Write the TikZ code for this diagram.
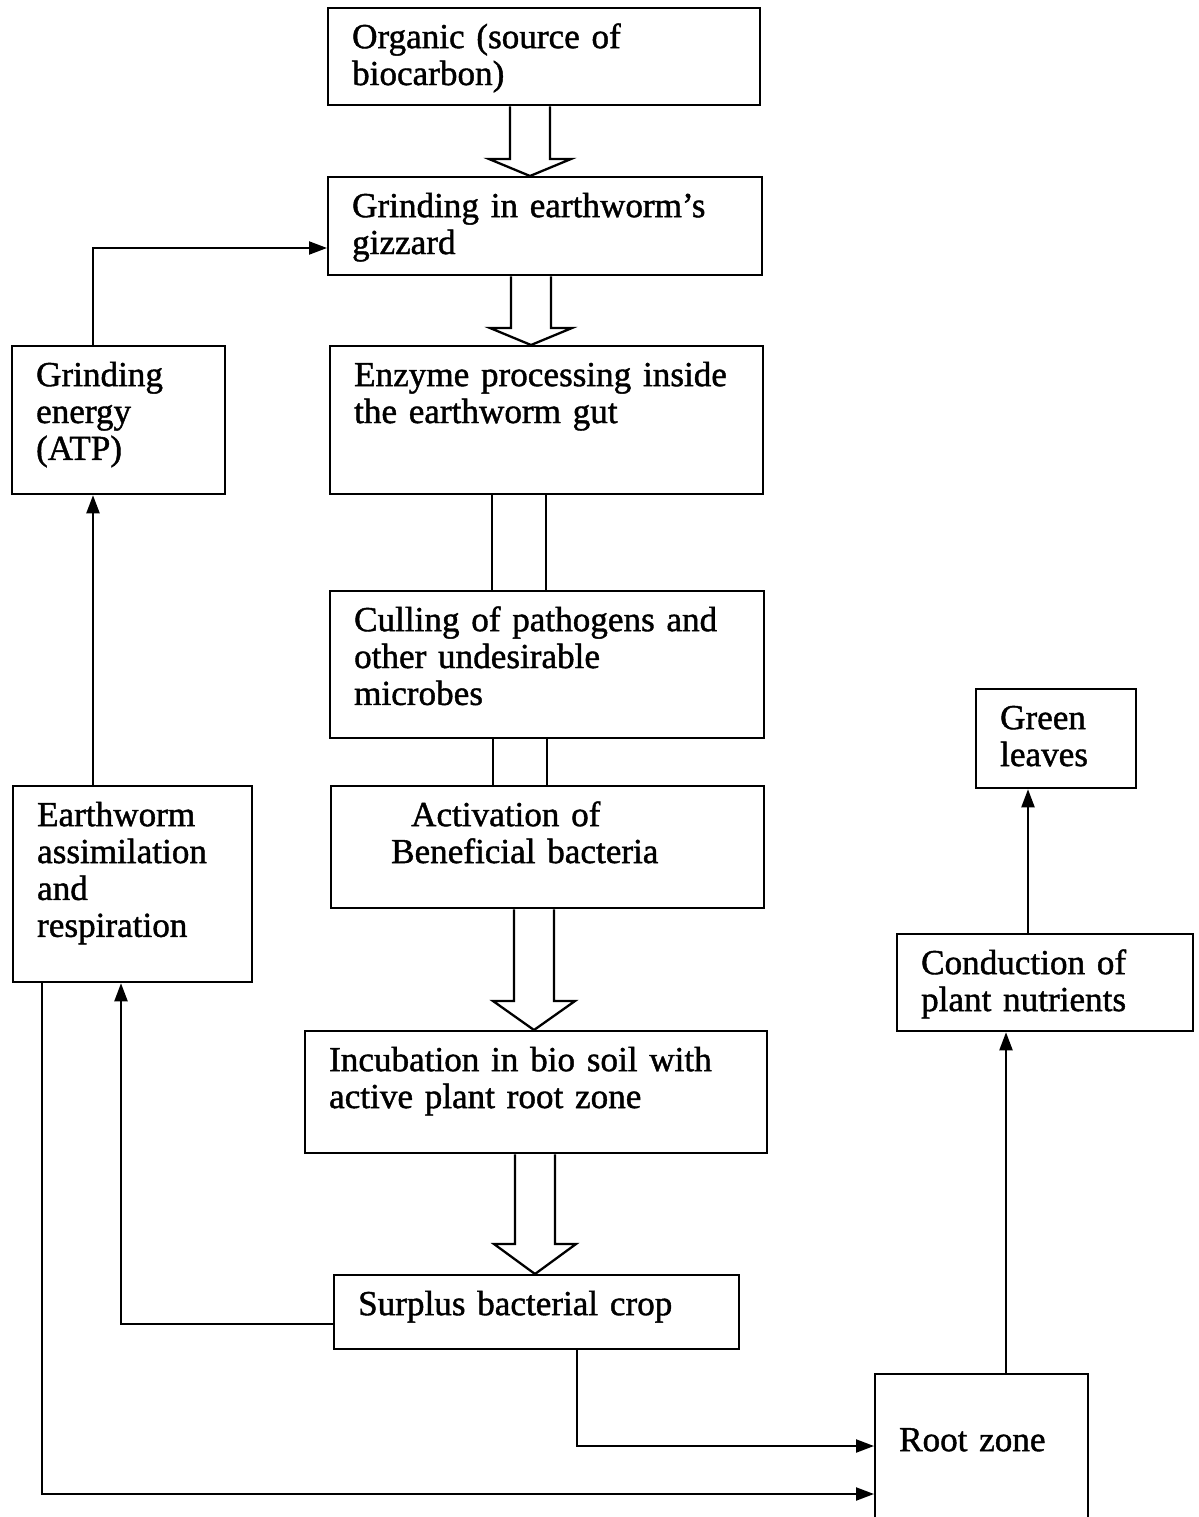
\documentclass[tikz,border=0pt]{standalone}
\usepackage{fontspec}
\setmainfont{Liberation Serif}[FakeBold=1.2]
\usepackage{tikz}
\usetikzlibrary{arrows.meta, calc}

% hollow block arrow from box #1 down to box #2, centred at x=#3, head length #4
\newcommand{\fatarrow}[4]{%
  \draw[hollow] (#3-20,0 |- #1.south) -- ($(#3-20,0 |- #2.north)+(0,-#4)$)
    -- ++(-21,0) -- (#3,0 |- #2.north) -- ($(#3+41,0 |- #2.north)+(0,-#4)$)
    -- ++(-21,0) -- (#3+20,0 |- #1.south);}

\begin{document}
\begin{tikzpicture}[
    x=0.02cm, y=-0.02cm,
    box/.style={draw, line width=1.3pt, anchor=north west, align=left,
        inner xsep=0.48cm, inner ysep=0pt, text height=0.8cm,
        font=\fontsize{20}{21}\selectfont},
    hollow/.style={line width=1.3pt},
    plain/.style={line width=1.3pt},
    link/.style={line width=1.2pt, -{Triangle[length=3.6mm,width=2.6mm]}}
]
    \useasboundingbox (0,0) rectangle (1198,1517);

    % main column
    \node[box, text width=7.68cm, text depth=1.14cm] (org) at (327,7) {Organic (source of\\biocarbon)};
    \node[box, text width=7.72cm, text depth=1.16cm] (grind) at (327,176) {Grinding in earthworm’s\\gizzard};
    \node[box, text width=7.70cm, text depth=2.16cm] (enz) at (329,345) {Enzyme processing inside\\the earthworm gut};
    \node[box, text width=7.72cm, text depth=2.14cm] (cull) at (329,590) {Culling of pathogens and\\other undesirable\\microbes};
    \node[box, text width=7.70cm, text depth=1.64cm] (act) at (330,785) {\hspace*{1.12cm}Activation of\\\hspace*{0.72cm}Beneficial bacteria};
    \node[box, text width=8.28cm, text depth=1.64cm] (incu) at (304,1030) {Incubation in bio soil with\\active plant root zone};
    \node[box, text width=7.14cm, text depth=0.68cm] (surp) at (333,1274) {Surplus bacterial crop};

    % left column
    \node[box, text width=3.30cm, text depth=2.16cm] (energy) at (11,345) {Grinding\\energy\\(ATP)};
    \node[box, text width=3.82cm, text depth=3.12cm] (assim) at (12,785) {Earthworm\\assimilation\\and\\respiration};

    % right column
    \node[box, text width=2.24cm, text depth=1.18cm] (leaves) at (975,688) {Green\\leaves};
    \node[box, text width=4.96cm, text depth=1.14cm] (cond) at (896,933) {Conduction of\\plant nutrients};
    \node[box, text width=3.30cm, text height=1.54cm, text depth=1.70cm] (root) at (874,1373) {Root zone};

    % block arrows down the main column
    \fatarrow{org}{grind}{530}{17}
    \fatarrow{grind}{enz}{531}{17}
    \draw[plain] (492,0 |- enz.south) -- (492,0 |- cull.north);
    \draw[plain] (546,0 |- enz.south) -- (546,0 |- cull.north);
    \draw[plain] (493,0 |- cull.south) -- (493,0 |- act.north);
    \draw[plain] (547,0 |- cull.south) -- (547,0 |- act.north);
    \fatarrow{act}{incu}{534}{29}
    \fatarrow{incu}{surp}{535}{30}

    % feedback and side links
    \draw[link] (93,0 |- energy.north) |- (grind.west |- 0,248);
    \draw[link] (93,0 |- assim.north) -- (93,0 |- energy.south);
    \draw[link] (surp.west |- 0,1324) -| (121,0 |- assim.south);
    \draw[link] (42,0 |- assim.south) |- (root.west |- 0,1494);
    \draw[link] (577,0 |- surp.south) |- (root.west |- 0,1446);
    \draw[link] (1006,0 |- root.north) -- (1006,0 |- cond.south);
    \draw[link] (1028,0 |- cond.north) -- (1028,0 |- leaves.south);
\end{tikzpicture}
\end{document}
